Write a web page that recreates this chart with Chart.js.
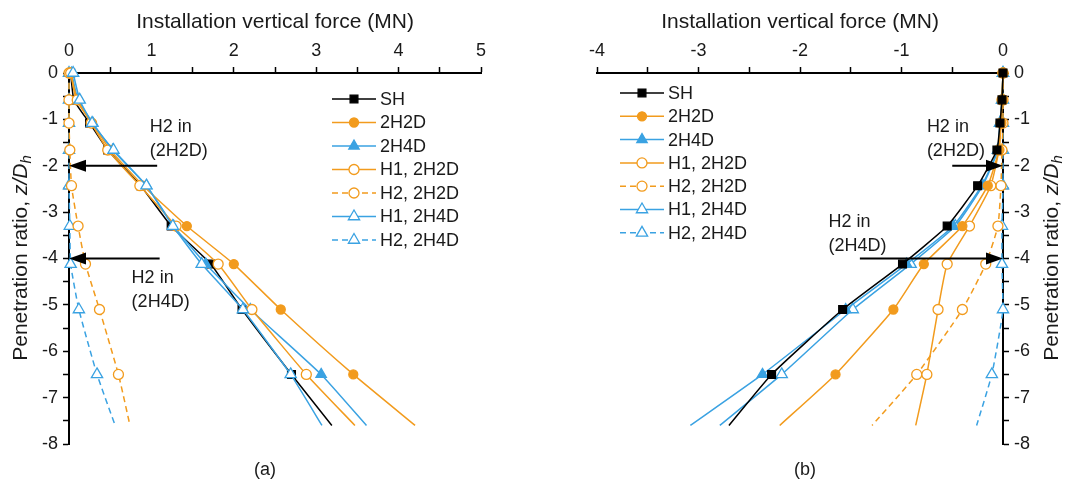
<!DOCTYPE html>
<html>
<head>
<meta charset="utf-8">
<script src="https://cdn.jsdelivr.net/npm/chart.js@4.4.1/dist/chart.umd.min.js"></script>
<style>
html,body{margin:0;padding:0;background:#fff;}
#wrap{position:relative;width:1069px;height:481px;overflow:hidden;}
#cA{position:absolute;left:0;top:0;}
#cB{position:absolute;left:534px;top:0;}
</style>
</head>
<body>
<div id="wrap">
  <canvas id="cA" width="534" height="481"></canvas>
  <canvas id="cB" width="535" height="481"></canvas>
</div>
<script>
// penetration ratio z/Dh where the curves were read
const depth = [0, -0.58, -1.08, -1.66, -2.43, -3.3, -4.12, -5.1, -6.5, -7.6];
const seriesNames = ['SH', '2H2D', '2H4D', 'H1, 2H2D', 'H2, 2H2D', 'H1, 2H4D', 'H2, 2H4D'];

// (a) installation vertical force, MN
const shA      = [0.02, 0.06, 0.25, 0.47, 0.87, 1.24, 1.72, 2.1, 2.7, 3.19];
const h2d2A    = [0.02, 0.09, 0.28, 0.5, 0.9, 1.43, 2.0, 2.57, 3.45, 4.2];
const h4d2A    = [0.03, 0.11, 0.29, 0.53, 0.94, 1.27, 1.66, 2.2, 3.06, 3.61];
const h1of2H2DA = [0.02, 0.1, 0.27, 0.47, 0.86, 1.3, 1.81, 2.22, 2.88, 3.47];
const h2of2H2DA = [0, 0, 0, 0.01, 0.03, 0.11, 0.2, 0.37, 0.6, 0.74];
const h1of2H4DA = [0.05, 0.13, 0.28, 0.54, 0.94, 1.26, 1.61, 2.11, 2.69, 3.07];
const h2of2H4DA = [0, 0, 0, 0, 0, 0.01, 0.02, 0.12, 0.34, 0.56];

// (b) extraction vertical force, MN
const shB      = [0, -0.01, -0.03, -0.06, -0.25, -0.55, -0.99, -1.58, -2.28, -2.7];
const h2d2B    = [0, -0.01, -0.02, -0.04, -0.15, -0.4, -0.78, -1.08, -1.65, -2.2];
const h4d2B    = [0, -0.01, -0.03, -0.05, -0.21, -0.49, -0.95, -1.55, -2.37, -3.08];
const h1of2H2DB = [0, -0.01, -0.02, -0.04, -0.12, -0.33, -0.55, -0.64, -0.75, -0.86];
const h2of2H2DB = [0, 0, 0, -0.01, -0.02, -0.05, -0.17, -0.4, -0.85, -1.29];
const h1of2H4DB = [0, -0.01, -0.03, -0.05, -0.2, -0.47, -0.91, -1.48, -2.18, -2.79];
const h2of2H4DB = [0, 0, 0, 0, 0, -0.01, -0.01, 0, -0.11, -0.26];

const xTicksA = [0, 1, 2, 3, 4, 5];
const xTicksB = [-4, -3, -2, -1, 0];

const FONT = '"Liberation Sans", Arial, sans-serif';
const ORANGE = '#f29b1d', BLUE = '#3aa2e2', INK = '#1a1a1a';

const looks = [
  {c: '#000', bg: '#000', pt: 'rect', r: 5.5, dash: []},
  {c: ORANGE, bg: ORANGE, pt: 'circle', r: 4.5, dash: []},
  {c: BLUE, bg: BLUE, pt: 'triangle', r: 6, dash: []},
  {c: ORANGE, bg: '#fff', pt: 'circle', r: 5, dash: []},
  {c: ORANGE, bg: '#fff', pt: 'circle', r: 5, dash: [6, 4]},
  {c: BLUE, bg: '#fff', pt: 'triangle', r: 6.5, dash: []},
  {c: BLUE, bg: '#fff', pt: 'triangle', r: 6.5, dash: [6, 4]}
];

function makeSets(cols, order){
  return cols.map((vals, i) => {
    const lk = looks[i];
    return {
      label: seriesNames[i],
      data: vals.map((v, k) => ({x: v, y: depth[k]})),
      order: order[i],
      showLine: true,
      borderColor: lk.c,
      borderWidth: 1.5,
      borderDash: lk.dash,
      backgroundColor: lk.bg,
      pointBackgroundColor: lk.bg,
      pointBorderColor: lk.c,
      pointBorderWidth: 1.3,
      pointStyle: lk.pt,
      pointRadius: ctx => ctx.dataIndex === depth.length - 1 ? 0 : lk.r,
      legendR: lk.r,
      tension: 0.15,
      clip: false
    };
  });
}

function axes(xmin, xmax, xTicks, yPos, yWidth){
  return {
    x: {
      type: 'linear', position: 'top', min: xmin, max: xmax,
      ticks: {stepSize: 0.5, autoSkip: false, maxRotation: 0, padding: 5, color: INK,
        font: {size: 18, family: FONT},
        callback: v => xTicks.includes(v) ? String(v) : ''},
      grid: {drawOnChartArea: false, drawTicks: true, tickLength: 6, tickColor: '#000', tickWidth: 1.5},
      border: {display: true, color: '#000', width: 2},
      title: {display: true, text: 'Installation vertical force (MN)', color: INK,
        font: {size: 21, family: FONT}, padding: {top: 10, bottom: 0}},
      afterFit(s){ s.height = 73; }
    },
    y: {
      type: 'linear', position: yPos, min: -8, max: 0,
      ticks: {stepSize: 0.5, autoSkip: false, padding: 5, color: INK,
        font: {size: 18, family: FONT},
        callback: v => Number.isInteger(v) ? String(v) : ''},
      grid: {drawOnChartArea: false, drawTicks: true, tickLength: 6, tickColor: '#000', tickWidth: 1.5},
      border: {display: true, color: '#000', width: 2},
      afterFit(s){ s.width = yWidth; }
    }
  };
}

// legend, y-axis title, arrows and panel tag
function decor(cfg){
  return {
    id: 'decor',
    afterDatasetsDraw(chart){
      const ctx = chart.ctx, xs = chart.scales.x, ys = chart.scales.y;
      ctx.save();
      // arrows
      cfg.arrows.forEach(a => {
        const y = ys.getPixelForValue(a.z);
        const x0 = xs.getPixelForValue(a.from), x1 = xs.getPixelForValue(a.to);
        const d = Math.sign(x1 - x0);
        ctx.strokeStyle = '#000'; ctx.fillStyle = '#000'; ctx.lineWidth = 2;
        ctx.beginPath(); ctx.moveTo(x0, y); ctx.lineTo(x1 - d * 10, y); ctx.stroke();
        ctx.beginPath(); ctx.moveTo(x1, y); ctx.lineTo(x1 - d * 17, y - 6); ctx.lineTo(x1 - d * 17, y + 6); ctx.closePath(); ctx.fill();
      });
      // notes
      ctx.font = '18px ' + FONT; ctx.fillStyle = INK; ctx.textBaseline = 'middle'; ctx.textAlign = 'left';
      cfg.notes.forEach(n => {
        const x = xs.getPixelForValue(n.x), y = ys.getPixelForValue(n.z);
        n.lines.forEach((t, i) => ctx.fillText(t, x, y + i * 24));
      });
      // legend
      chart.data.datasets.forEach((ds, i) => {
        const y = cfg.lg.y + i * cfg.lg.step, x = cfg.lg.x;
        ctx.strokeStyle = ds.borderColor; ctx.lineWidth = 1.5; ctx.setLineDash(ds.borderDash);
        ctx.beginPath(); ctx.moveTo(x, y); ctx.lineTo(x + 44, y); ctx.stroke();
        ctx.setLineDash([]);
        ctx.fillStyle = ds.pointBackgroundColor; ctx.strokeStyle = ds.borderColor; ctx.lineWidth = 1.3;
        Chart.helpers.drawPoint(ctx, {pointStyle: ds.pointStyle, radius: ds.legendR, borderWidth: 1.3, rotation: 0}, x + 22, y);
        ctx.fillStyle = INK; ctx.font = '18px ' + FONT;
        ctx.fillText(ds.label, x + 48, y + 1);
      });
      // y title: Penetration ratio, z/Dh
      const parts = [['Penetration ratio, ', '21px ' + FONT, 0], ['z/D', 'italic 21px ' + FONT, 0], ['h', 'italic 15px ' + FONT, 6]];
      let w = 0;
      parts.forEach(p => { ctx.font = p[1]; w += ctx.measureText(p[0]).width; });
      ctx.translate(cfg.yt.x, cfg.yt.y); ctx.rotate(-Math.PI / 2);
      let px = -w / 2;
      parts.forEach(p => { ctx.font = p[1]; ctx.fillText(p[0], px, p[2]); px += ctx.measureText(p[0]).width; });
      ctx.setTransform(1, 0, 0, 1, 0, 0);
      // panel tag
      ctx.font = '18px ' + FONT; ctx.textAlign = 'center';
      ctx.fillText(cfg.tag.t, cfg.tag.x, cfg.tag.y);
      ctx.restore();
    }
  };
}

new Chart(document.getElementById('cA'), {
  type: 'scatter',
  data: {datasets: makeSets([shA, h2d2A, h4d2A, h1of2H2DA, h2of2H2DA, h1of2H4DA, h2of2H4DA], [2, 1, 1, 0, 0, -1, 0])},
  options: {
    responsive: false, animation: false,
    layout: {padding: {left: 0, right: 53, top: 0, bottom: 37}},
    plugins: {legend: {display: false}, tooltip: {enabled: false}},
    scales: axes(0, 5, xTicksA, 'left', 69)
  },
  plugins: [decor({
    arrows: [{z: -2, from: 1.07, to: 0}, {z: -4, from: 1.1, to: 0}],
    notes: [{lines: ['H2 in', '(2H2D)'], x: 0.98, z: -1.16}, {lines: ['H2 in', '(2H4D)'], x: 0.76, z: -4.42}],
    lg: {x: 332, y: 99, step: 23.5},
    yt: {x: 21, y: 258},
    tag: {t: '(a)', x: 265, y: 470}
  })]
});

new Chart(document.getElementById('cB'), {
  type: 'scatter',
  data: {datasets: makeSets([shB, h2d2B, h4d2B, h1of2H2DB, h2of2H2DB, h1of2H4DB, h2of2H4DB], [0, 0, 1, 0, 0, 1, 0])},
  options: {
    responsive: false, animation: false,
    layout: {padding: {left: 63, right: 0, top: 0, bottom: 37}},
    plugins: {legend: {display: false}, tooltip: {enabled: false}},
    scales: axes(-4, 0, xTicksB, 'right', 66)
  },
  plugins: [decor({
    arrows: [{z: -2, from: -0.5, to: 0}, {z: -4, from: -1.41, to: 0}],
    notes: [{lines: ['H2 in', '(2H2D)'], x: -0.75, z: -1.16}, {lines: ['H2 in', '(2H4D)'], x: -1.72, z: -3.21}],
    lg: {x: 86, y: 93, step: 23.3},
    yt: {x: 518, y: 258},
    tag: {t: '(b)', x: 271, y: 470}
  })]
});
</script>
</body>
</html>
